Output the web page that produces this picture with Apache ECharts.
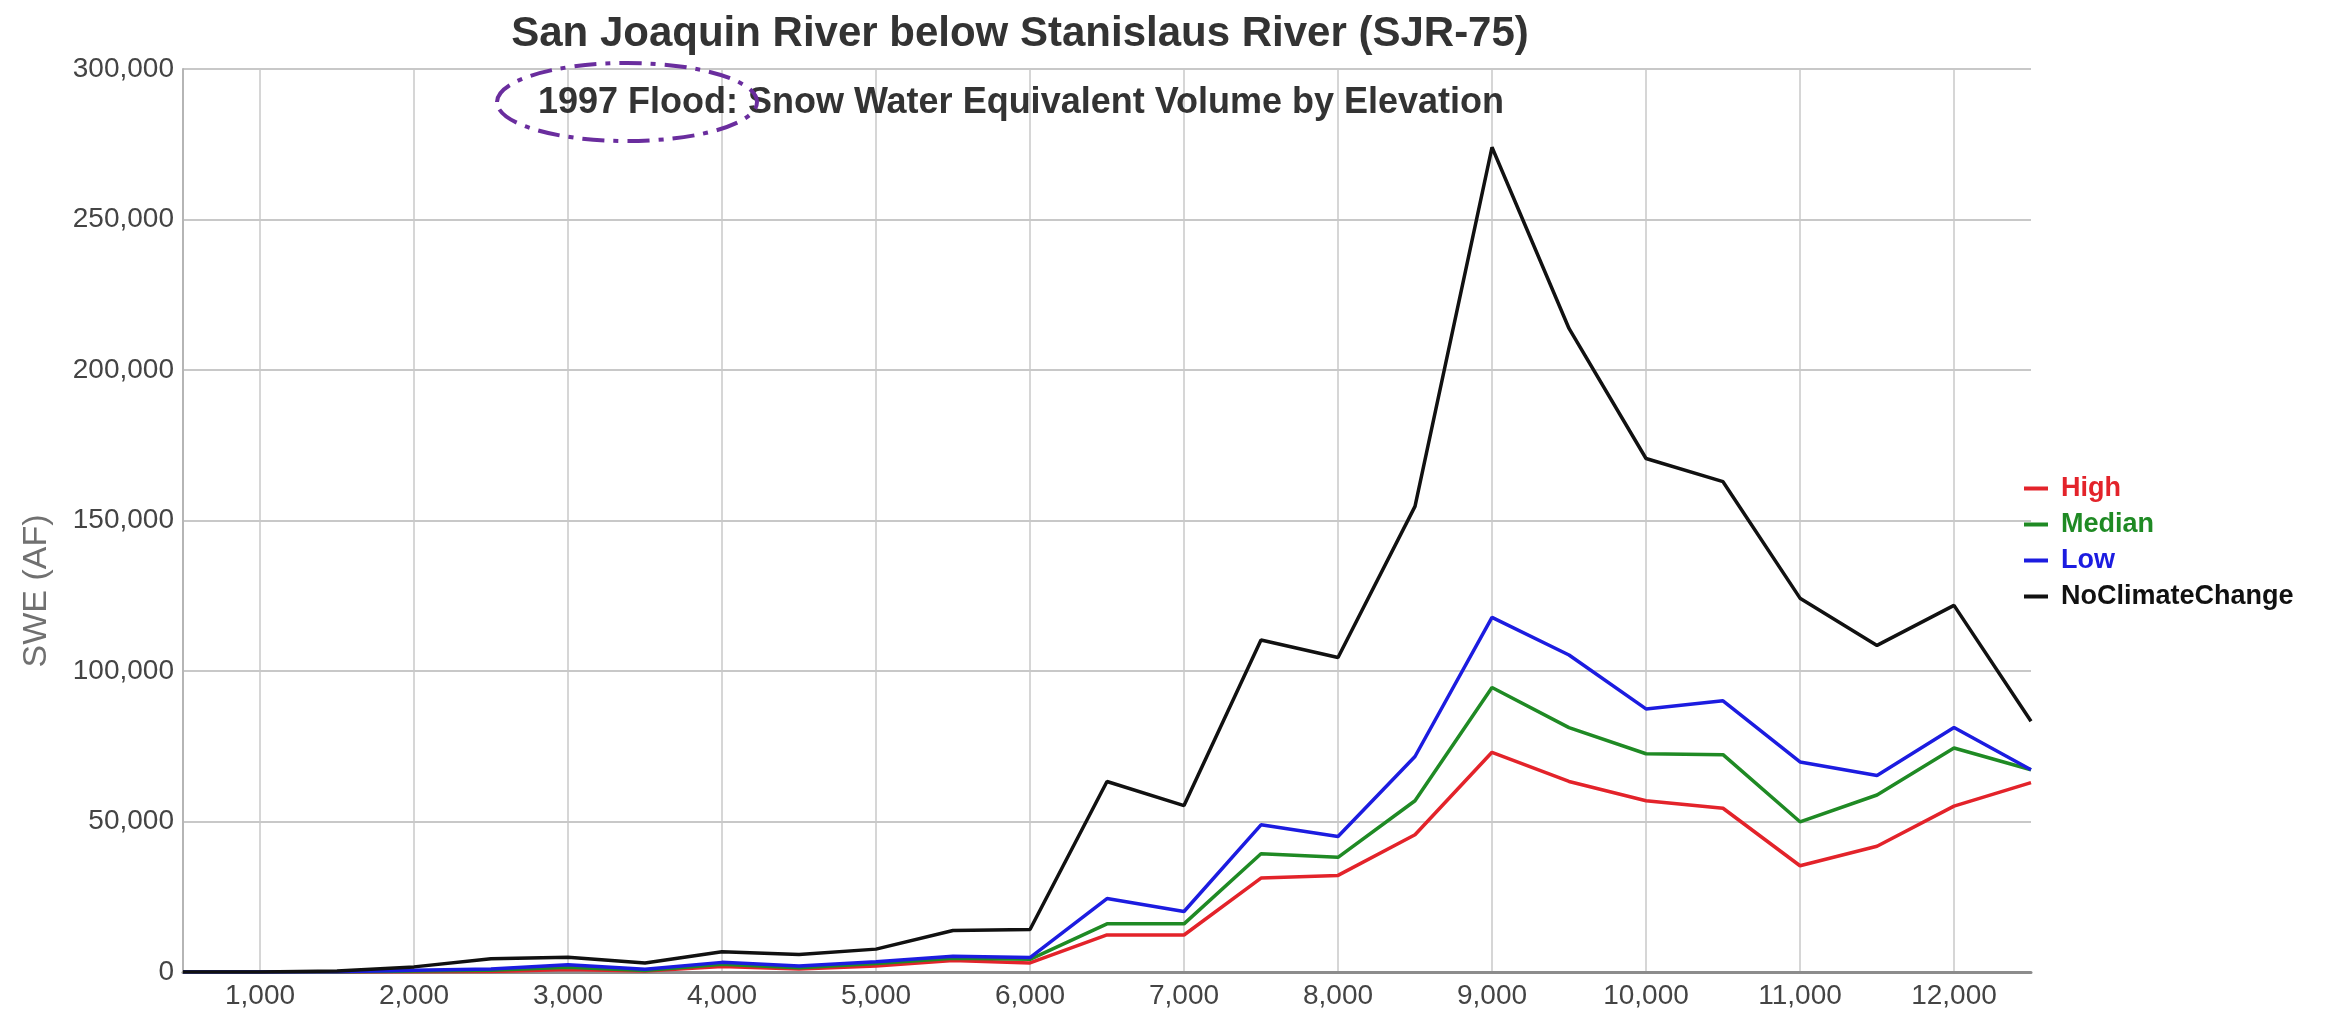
<!DOCTYPE html>
<html>
<head>
<meta charset="utf-8">
<title>SJR-75 SWE by Elevation</title>
<script src="https://cdn.jsdelivr.net/npm/echarts@6/dist/echarts.min.js"></script>
<style>
  html, body { margin: 0; padding: 0; background: #fff; }
  #chart { width: 2341px; height: 1018px; }
</style>
</head>
<body>
<div id="chart"></div>
<script>
// elevation bands (ft)
const elevations = [500, 1000, 1500, 2000, 2500, 3000, 3500, 4000, 4500, 5000, 5500, 6000, 6500,
  7000, 7500, 8000, 8500, 9000, 9500, 10000, 10500, 11000, 11500, 12000, 12500]

// SWE volume (AF)
const high = [0, 0, 0, 100, 200, 800, 300, 1800, 1000, 2000, 3800, 3000, 12300,
  12300, 31200, 32100, 45600, 73000, 63300, 56900, 54400, 35300, 41800, 55100, 62900]
const median = [0, 0, 0, 300, 600, 1600, 500, 2600, 1400, 2800, 4600, 4200, 16000,
  16000, 39300, 38100, 56900, 94500, 81200, 72500, 72200, 49900, 58800, 74400, 67200]
const low = [0, 0, 100, 600, 1000, 2400, 900, 3200, 2000, 3400, 5200, 4800, 24400,
  20100, 48900, 45000, 71600, 117800, 105300, 87400, 90100, 69800, 65300, 81200, 67200]
const noClimateChange = [0, 0, 300, 1700, 4400, 4900, 3000, 6700, 5800, 7600, 13800, 14100, 63300,
  55300, 110300, 104500, 154700, 274000, 213800, 170600, 162900, 124200, 108500, 121800, 83300]

const seriesNames = ["High", "Median", "Low", "NoClimateChange"]
const seriesColors = ["#e3232a", "#1f8a24", "#1c1ce0", "#111111"]
const seriesData = [high, median, low, noClimateChange]

const chart = echarts.init(document.getElementById("chart"))

const font = "'Liberation Sans', Arial, sans-serif"
const fmt = (v) => v.toLocaleString("en-US")
const onThousand = (i, v) => Number(v) % 1000 === 0

const option = {
  backgroundColor: "#fff",
  animation: false,
  title: [
    {
      text: "San Joaquin River below Stanislaus River (SJR-75)",
      left: 1020,
      top: 13,
      textAlign: "center",
      padding: 0,
      textStyle: { fontFamily: font, fontSize: 42, fontWeight: "bold", color: "#333" },
    },
    {
      text: "1997 Flood: Snow Water Equivalent Volume by Elevation",
      left: 1021,
      top: 85,
      textAlign: "center",
      padding: 0,
      textStyle: { fontFamily: font, fontSize: 36, fontWeight: "bold", color: "#333" },
    },
  ],
  legend: {
    orient: "vertical",
    left: 2019,
    top: 470,
    itemWidth: 24,
    itemHeight: 4,
    itemGap: 9,
    icon: "rect",
    data: seriesNames.map((n, i) => ({
      name: n,
      textStyle: { color: seriesColors[i] },
    })),
    textStyle: { fontFamily: font, fontSize: 27, fontWeight: "bold", padding: [0, 0, 0, 8] },
  },
  grid: {
    left: 183,
    right: 310,
    top: 69,
    bottom: 46,
    containLabel: false,
  },
  xAxis: {
    type: "category",
    data: elevations,
    boundaryGap: false,
    axisLine: { lineStyle: { color: "#8c8c8c", width: 3 } },
    axisTick: { show: false },
    axisLabel: {
      interval: onThousand,
      formatter: (v) => fmt(Number(v)),
      color: "#444",
      fontFamily: font,
      fontSize: 28,
      margin: 10,
    },
    splitLine: {
      show: true,
      interval: onThousand,
      lineStyle: { color: "#c8c8c8", width: 1.5 },
    },
  },
  yAxis: {
    type: "value",
    min: 0,
    max: 300000,
    interval: 50000,
    axisLine: { show: true, lineStyle: { color: "#b5b5b5", width: 2 } },
    axisTick: { show: false },
    axisLabel: {
      formatter: fmt,
      color: "#444",
      fontFamily: font,
      fontSize: 28,
      margin: 9,
    },
    splitLine: { lineStyle: { color: "#c8c8c8", width: 2 } },
  },
  series: seriesNames.map((n, i) => ({
    name: n,
    type: "line",
    data: seriesData[i],
    symbol: "none",
    color: seriesColors[i],
    lineStyle: { width: 3.5, color: seriesColors[i] },
  })),
  graphic: [
    // axis title sits below the plot's middle in the original
    {
      type: "text",
      x: 37,
      y: 591,
      rotation: Math.PI / 2,
      style: {
        text: "SWE (AF)",
        fontFamily: font,
        fontSize: 34,
        fill: "#707070",
        align: "center",
        verticalAlign: "middle",
      },
    },
    {
      type: "ellipse",
      z: 100,
      shape: { cx: 627, cy: 102, rx: 130, ry: 39 },
      style: {
        fill: null,
        stroke: "#6a2d9e",
        lineWidth: 4,
        lineDash: [22, 9, 5, 9],
      },
    },
  ],
}

chart.setOption(option)
</script>
</body>
</html>
